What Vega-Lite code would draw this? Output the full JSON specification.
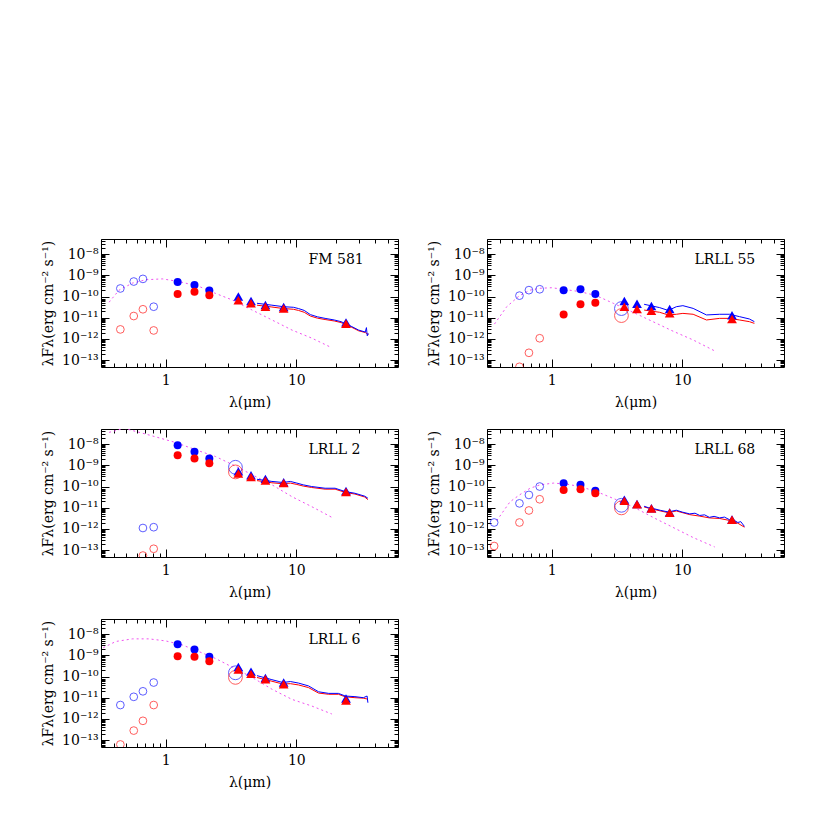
{
"$schema": "https://vega.github.io/schema/vega-lite/v6.json",
"padding": {"left": 41, "top": 231, "right": 5, "bottom": 5},
"background": "white",
"config": {
  "view": {"stroke": "black", "strokeWidth": 1},
  "font": "DejaVu Serif",
  "axis": {"domain": false, "grid": false, "tickColor": "black", "tickWidth": 1, "labelFont": "DejaVu Serif", "labelFontSize": 14, "labelColor": "black", "titleFont": "DejaVu Serif", "titleFontSize": 14, "titleFontWeight": "normal", "titleColor": "black", "labelOverlap": false, "labelFlush": false}
},
"datasets": {
  "phot": [
    {"p":"FM 581","s":"b","t":"o","x":0.45,"y":2.4e-10},{"p":"FM 581","s":"b","t":"o","x":0.57,"y":5.1e-10},{"p":"FM 581","s":"b","t":"o","x":0.67,"y":6.8e-10},{"p":"FM 581","s":"b","t":"o","x":0.81,"y":3.3e-11},
    {"p":"FM 581","s":"r","t":"o","x":0.45,"y":2.8e-12},{"p":"FM 581","s":"r","t":"o","x":0.57,"y":1.2e-11},{"p":"FM 581","s":"r","t":"o","x":0.67,"y":2.5e-11},{"p":"FM 581","s":"r","t":"o","x":0.81,"y":2.5e-12},
    {"p":"FM 581","s":"b","t":"f","x":1.235,"y":4.8e-10},{"p":"FM 581","s":"b","t":"f","x":1.662,"y":3.5e-10},{"p":"FM 581","s":"b","t":"f","x":2.159,"y":1.9e-10},
    {"p":"FM 581","s":"r","t":"f","x":1.235,"y":1.3e-10},{"p":"FM 581","s":"r","t":"f","x":1.662,"y":1.7e-10},{"p":"FM 581","s":"r","t":"f","x":2.159,"y":1.15e-10},
    {"p":"FM 581","s":"b","t":"t","x":3.6,"y":1.0e-10},{"p":"FM 581","s":"b","t":"t","x":4.5,"y":6.2e-11},{"p":"FM 581","s":"b","t":"t","x":5.8,"y":4.0e-11},{"p":"FM 581","s":"b","t":"t","x":8.0,"y":3.2e-11},{"p":"FM 581","s":"b","t":"t","x":24,"y":6.0e-12},
    {"p":"FM 581","s":"r","t":"t","x":3.6,"y":6.6e-11},{"p":"FM 581","s":"r","t":"t","x":4.5,"y":4.8e-11},{"p":"FM 581","s":"r","t":"t","x":5.8,"y":3.3e-11},{"p":"FM 581","s":"r","t":"t","x":8.0,"y":2.7e-11},{"p":"FM 581","s":"r","t":"t","x":24,"y":5.2e-12},

    {"p":"LRLL 55","s":"b","t":"o","x":0.567,"y":1.1e-10},{"p":"LRLL 55","s":"b","t":"o","x":0.67,"y":2.0e-10},{"p":"LRLL 55","s":"b","t":"o","x":0.81,"y":2.2e-10},
    {"p":"LRLL 55","s":"r","t":"o","x":0.567,"y":4.8e-14},{"p":"LRLL 55","s":"r","t":"o","x":0.67,"y":2.2e-13},{"p":"LRLL 55","s":"r","t":"o","x":0.81,"y":1.07e-12},
    {"p":"LRLL 55","s":"b","t":"f","x":1.235,"y":2.0e-10},{"p":"LRLL 55","s":"b","t":"f","x":1.662,"y":2.2e-10},{"p":"LRLL 55","s":"b","t":"f","x":2.159,"y":1.3e-10},
    {"p":"LRLL 55","s":"r","t":"f","x":1.235,"y":1.4e-11},{"p":"LRLL 55","s":"r","t":"f","x":1.662,"y":4.3e-11},{"p":"LRLL 55","s":"r","t":"f","x":2.159,"y":5.1e-11},
    {"p":"LRLL 55","s":"b","t":"O","x":3.42,"y":2.7e-11},{"p":"LRLL 55","s":"r","t":"O","x":3.42,"y":1.26e-11},
    {"p":"LRLL 55","s":"b","t":"t","x":3.6,"y":6.2e-11},{"p":"LRLL 55","s":"b","t":"t","x":4.5,"y":4.6e-11},{"p":"LRLL 55","s":"b","t":"t","x":5.8,"y":3.6e-11},{"p":"LRLL 55","s":"b","t":"t","x":8.0,"y":2.6e-11},{"p":"LRLL 55","s":"b","t":"t","x":24,"y":1.3e-11},
    {"p":"LRLL 55","s":"r","t":"t","x":3.6,"y":3.3e-11},{"p":"LRLL 55","s":"r","t":"t","x":4.5,"y":2.6e-11},{"p":"LRLL 55","s":"r","t":"t","x":5.8,"y":2.1e-11},{"p":"LRLL 55","s":"r","t":"t","x":8.0,"y":1.6e-11},{"p":"LRLL 55","s":"r","t":"t","x":24,"y":8.7e-12},

    {"p":"LRLL 2","s":"b","t":"o","x":0.67,"y":1.1e-12},{"p":"LRLL 2","s":"b","t":"o","x":0.81,"y":1.2e-12},
    {"p":"LRLL 2","s":"r","t":"o","x":0.67,"y":5.5e-14},{"p":"LRLL 2","s":"r","t":"o","x":0.81,"y":1.15e-13},
    {"p":"LRLL 2","s":"b","t":"f","x":1.235,"y":9.0e-9},{"p":"LRLL 2","s":"b","t":"f","x":1.662,"y":4.4e-9},{"p":"LRLL 2","s":"b","t":"f","x":2.159,"y":2.1e-9},
    {"p":"LRLL 2","s":"r","t":"f","x":1.235,"y":3.0e-9},{"p":"LRLL 2","s":"r","t":"f","x":1.662,"y":2.1e-9},{"p":"LRLL 2","s":"r","t":"f","x":2.159,"y":1.27e-9},
    {"p":"LRLL 2","s":"b","t":"O","x":3.42,"y":8.1e-10},{"p":"LRLL 2","s":"r","t":"O","x":3.42,"y":4.9e-10},
    {"p":"LRLL 2","s":"b","t":"t","x":3.6,"y":5.2e-10},{"p":"LRLL 2","s":"b","t":"t","x":4.5,"y":3.4e-10},{"p":"LRLL 2","s":"b","t":"t","x":5.8,"y":2.3e-10},{"p":"LRLL 2","s":"b","t":"t","x":8.0,"y":1.6e-10},{"p":"LRLL 2","s":"b","t":"t","x":24,"y":6.2e-11},
    {"p":"LRLL 2","s":"r","t":"t","x":3.6,"y":4.1e-10},{"p":"LRLL 2","s":"r","t":"t","x":4.5,"y":2.8e-10},{"p":"LRLL 2","s":"r","t":"t","x":5.8,"y":1.9e-10},{"p":"LRLL 2","s":"r","t":"t","x":8.0,"y":1.45e-10},{"p":"LRLL 2","s":"r","t":"t","x":24,"y":5.5e-11},

    {"p":"LRLL 68","s":"b","t":"o","x":0.363,"y":2.0e-12},{"p":"LRLL 68","s":"b","t":"o","x":0.567,"y":1.6e-11},{"p":"LRLL 68","s":"b","t":"o","x":0.67,"y":4.0e-11},{"p":"LRLL 68","s":"b","t":"o","x":0.81,"y":1.0e-10},
    {"p":"LRLL 68","s":"r","t":"o","x":0.363,"y":1.55e-13},{"p":"LRLL 68","s":"r","t":"o","x":0.567,"y":2.0e-12},{"p":"LRLL 68","s":"r","t":"o","x":0.67,"y":7.4e-12},{"p":"LRLL 68","s":"r","t":"o","x":0.81,"y":2.5e-11},
    {"p":"LRLL 68","s":"b","t":"f","x":1.235,"y":1.44e-10},{"p":"LRLL 68","s":"b","t":"f","x":1.662,"y":1.2e-10},{"p":"LRLL 68","s":"b","t":"f","x":2.159,"y":6.4e-11},
    {"p":"LRLL 68","s":"r","t":"f","x":1.235,"y":6.9e-11},{"p":"LRLL 68","s":"r","t":"f","x":1.662,"y":7.4e-11},{"p":"LRLL 68","s":"r","t":"f","x":2.159,"y":4.8e-11},
    {"p":"LRLL 68","s":"b","t":"O","x":3.42,"y":1.3e-11},{"p":"LRLL 68","s":"r","t":"O","x":3.42,"y":9.8e-12},
    {"p":"LRLL 68","s":"b","t":"t","x":3.6,"y":2.4e-11},{"p":"LRLL 68","s":"b","t":"t","x":4.5,"y":1.5e-11},{"p":"LRLL 68","s":"b","t":"t","x":5.8,"y":9.5e-12},{"p":"LRLL 68","s":"b","t":"t","x":8.0,"y":6.0e-12},{"p":"LRLL 68","s":"b","t":"t","x":24,"y":2.8e-12},
    {"p":"LRLL 68","s":"r","t":"t","x":3.6,"y":2.1e-11},{"p":"LRLL 68","s":"r","t":"t","x":4.5,"y":1.45e-11},{"p":"LRLL 68","s":"r","t":"t","x":5.8,"y":9.1e-12},{"p":"LRLL 68","s":"r","t":"t","x":8.0,"y":5.8e-12},{"p":"LRLL 68","s":"r","t":"t","x":24,"y":2.7e-12},

    {"p":"LRLL 6","s":"b","t":"o","x":0.45,"y":4.5e-12},{"p":"LRLL 6","s":"b","t":"o","x":0.57,"y":1.1e-11},{"p":"LRLL 6","s":"b","t":"o","x":0.67,"y":2.0e-11},{"p":"LRLL 6","s":"b","t":"o","x":0.81,"y":5.2e-11},
    {"p":"LRLL 6","s":"r","t":"o","x":0.45,"y":6.2e-14},{"p":"LRLL 6","s":"r","t":"o","x":0.57,"y":2.8e-13},{"p":"LRLL 6","s":"r","t":"o","x":0.67,"y":8.1e-13},{"p":"LRLL 6","s":"r","t":"o","x":0.81,"y":4.5e-12},
    {"p":"LRLL 6","s":"b","t":"f","x":1.235,"y":3.3e-9},{"p":"LRLL 6","s":"b","t":"f","x":1.662,"y":1.9e-9},{"p":"LRLL 6","s":"b","t":"f","x":2.159,"y":8.5e-10},
    {"p":"LRLL 6","s":"r","t":"f","x":1.235,"y":9.1e-10},{"p":"LRLL 6","s":"r","t":"f","x":1.662,"y":8.5e-10},{"p":"LRLL 6","s":"r","t":"f","x":2.159,"y":5.2e-10},
    {"p":"LRLL 6","s":"b","t":"O","x":3.42,"y":1.5e-10},{"p":"LRLL 6","s":"r","t":"O","x":3.42,"y":9.1e-11},
    {"p":"LRLL 6","s":"b","t":"t","x":3.6,"y":2.8e-10},{"p":"LRLL 6","s":"b","t":"t","x":4.5,"y":1.7e-10},{"p":"LRLL 6","s":"b","t":"t","x":5.8,"y":8.5e-11},{"p":"LRLL 6","s":"b","t":"t","x":8.0,"y":5.2e-11},{"p":"LRLL 6","s":"b","t":"t","x":24,"y":9.1e-12},
    {"p":"LRLL 6","s":"r","t":"t","x":3.6,"y":2.15e-10},{"p":"LRLL 6","s":"r","t":"t","x":4.5,"y":1.33e-10},{"p":"LRLL 6","s":"r","t":"t","x":5.8,"y":7.4e-11},{"p":"LRLL 6","s":"r","t":"t","x":8.0,"y":4.3e-11},{"p":"LRLL 6","s":"r","t":"t","x":24,"y":7.4e-12}
  ],
  "spec": [
    {"p":"FM 581","s":"r","x":5.0,"y":3.9e-11},{"p":"FM 581","s":"r","x":6.5,"y":3.2e-11},{"p":"FM 581","s":"r","x":8.0,"y":2.7e-11},{"p":"FM 581","s":"r","x":9.5,"y":2.5e-11},{"p":"FM 581","s":"r","x":10.4,"y":2.2e-11},{"p":"FM 581","s":"r","x":11.5,"y":1.8e-11},{"p":"FM 581","s":"r","x":12.8,"y":1.2e-11},{"p":"FM 581","s":"r","x":14.5,"y":9.5e-12},{"p":"FM 581","s":"r","x":16.6,"y":8.2e-12},{"p":"FM 581","s":"r","x":19.5,"y":7.0e-12},{"p":"FM 581","s":"r","x":22,"y":5.9e-12},{"p":"FM 581","s":"r","x":26.6,"y":3.5e-12},{"p":"FM 581","s":"r","x":30,"y":2.4e-12},{"p":"FM 581","s":"r","x":33.7,"y":2.0e-12},{"p":"FM 581","s":"r","x":35.6,"y":1.6e-12},
    {"p":"FM 581","s":"b","x":5.0,"y":4.8e-11},{"p":"FM 581","s":"b","x":6.5,"y":3.9e-11},{"p":"FM 581","s":"b","x":8.0,"y":3.3e-11},{"p":"FM 581","s":"b","x":9.5,"y":3.1e-11},{"p":"FM 581","s":"b","x":10.4,"y":2.7e-11},{"p":"FM 581","s":"b","x":11.5,"y":2.2e-11},{"p":"FM 581","s":"b","x":12.8,"y":1.4e-11},{"p":"FM 581","s":"b","x":14.5,"y":1.1e-11},{"p":"FM 581","s":"b","x":16.6,"y":9.3e-12},{"p":"FM 581","s":"b","x":19.5,"y":7.8e-12},{"p":"FM 581","s":"b","x":22,"y":6.5e-12},{"p":"FM 581","s":"b","x":26.6,"y":3.8e-12},{"p":"FM 581","s":"b","x":30,"y":2.6e-12},{"p":"FM 581","s":"b","x":33.7,"y":2.1e-12},{"p":"FM 581","s":"b","x":34.4,"y":3.4e-12},{"p":"FM 581","s":"b","x":34.9,"y":1.4e-12},{"p":"FM 581","s":"b","x":35.6,"y":1.8e-12},

    {"p":"LRLL 55","s":"r","x":5.1,"y":2.3e-11},{"p":"LRLL 55","s":"r","x":6.7,"y":1.8e-11},{"p":"LRLL 55","s":"r","x":7.8,"y":1.35e-11},{"p":"LRLL 55","s":"r","x":9.0,"y":1.45e-11},{"p":"LRLL 55","s":"r","x":10.1,"y":1.6e-11},{"p":"LRLL 55","s":"r","x":12.1,"y":1.45e-11},{"p":"LRLL 55","s":"r","x":15.3,"y":7.8e-12},{"p":"LRLL 55","s":"r","x":19.3,"y":9.3e-12},{"p":"LRLL 55","s":"r","x":23,"y":9.3e-12},{"p":"LRLL 55","s":"r","x":27.4,"y":7.8e-12},{"p":"LRLL 55","s":"r","x":32.6,"y":6.5e-12},{"p":"LRLL 55","s":"r","x":35.6,"y":5.4e-12},
    {"p":"LRLL 55","s":"b","x":5.1,"y":4.3e-11},{"p":"LRLL 55","s":"b","x":6.7,"y":3.0e-11},{"p":"LRLL 55","s":"b","x":7.8,"y":2.2e-11},{"p":"LRLL 55","s":"b","x":9.0,"y":3.3e-11},{"p":"LRLL 55","s":"b","x":10.1,"y":3.7e-11},{"p":"LRLL 55","s":"b","x":12.1,"y":2.75e-11},{"p":"LRLL 55","s":"b","x":15.3,"y":1.35e-11},{"p":"LRLL 55","s":"b","x":19.3,"y":1.45e-11},{"p":"LRLL 55","s":"b","x":23,"y":1.45e-11},{"p":"LRLL 55","s":"b","x":27.4,"y":1.12e-11},{"p":"LRLL 55","s":"b","x":32.6,"y":8.7e-12},{"p":"LRLL 55","s":"b","x":35.6,"y":6.5e-12},

    {"p":"LRLL 2","s":"r","x":5.0,"y":1.9e-10},{"p":"LRLL 2","s":"r","x":6.5,"y":1.5e-10},{"p":"LRLL 2","s":"r","x":7.9,"y":1.35e-10},{"p":"LRLL 2","s":"r","x":9.0,"y":1.45e-10},{"p":"LRLL 2","s":"r","x":10.1,"y":1.25e-10},{"p":"LRLL 2","s":"r","x":11.3,"y":1.05e-10},{"p":"LRLL 2","s":"r","x":13.1,"y":9.0e-11},{"p":"LRLL 2","s":"r","x":16.6,"y":7.5e-11},{"p":"LRLL 2","s":"r","x":19.8,"y":7.5e-11},{"p":"LRLL 2","s":"r","x":23.6,"y":5.3e-11},{"p":"LRLL 2","s":"r","x":28.1,"y":4.4e-11},{"p":"LRLL 2","s":"r","x":33.4,"y":3.2e-11},{"p":"LRLL 2","s":"r","x":35.3,"y":2.4e-11},
    {"p":"LRLL 2","s":"b","x":5.0,"y":2.2e-10},{"p":"LRLL 2","s":"b","x":6.5,"y":1.74e-10},{"p":"LRLL 2","s":"b","x":7.9,"y":1.55e-10},{"p":"LRLL 2","s":"b","x":9.0,"y":1.74e-10},{"p":"LRLL 2","s":"b","x":10.1,"y":1.45e-10},{"p":"LRLL 2","s":"b","x":11.3,"y":1.2e-10},{"p":"LRLL 2","s":"b","x":13.1,"y":1.0e-10},{"p":"LRLL 2","s":"b","x":16.6,"y":8.3e-11},{"p":"LRLL 2","s":"b","x":19.8,"y":8.3e-11},{"p":"LRLL 2","s":"b","x":23.6,"y":5.8e-11},{"p":"LRLL 2","s":"b","x":28.1,"y":4.8e-11},{"p":"LRLL 2","s":"b","x":33.4,"y":3.5e-11},{"p":"LRLL 2","s":"b","x":35.3,"y":2.8e-11},

    {"p":"LRLL 68","s":"r","x":5.1,"y":1.08e-11},{"p":"LRLL 68","s":"r","x":6.0,"y":8.4e-12},{"p":"LRLL 68","s":"r","x":7.8,"y":5.8e-12},{"p":"LRLL 68","s":"r","x":9.0,"y":7.0e-12},{"p":"LRLL 68","s":"r","x":11.4,"y":4.7e-12},{"p":"LRLL 68","s":"r","x":13.6,"y":4.0e-12},{"p":"LRLL 68","s":"r","x":16.1,"y":3.3e-12},{"p":"LRLL 68","s":"r","x":19.3,"y":3.1e-12},{"p":"LRLL 68","s":"r","x":23,"y":2.5e-12},{"p":"LRLL 68","s":"r","x":26.6,"y":1.85e-12},{"p":"LRLL 68","s":"r","x":29.9,"y":1.2e-12},
    {"p":"LRLL 68","s":"b","x":5.1,"y":1.17e-11},{"p":"LRLL 68","s":"b","x":5.5,"y":1.0e-11},{"p":"LRLL 68","s":"b","x":6.0,"y":9.1e-12},{"p":"LRLL 68","s":"b","x":6.8,"y":7.5e-12},{"p":"LRLL 68","s":"b","x":7.8,"y":6.3e-12},{"p":"LRLL 68","s":"b","x":9.0,"y":7.6e-12},{"p":"LRLL 68","s":"b","x":10,"y":6.2e-12},{"p":"LRLL 68","s":"b","x":11.4,"y":5.1e-12},{"p":"LRLL 68","s":"b","x":12.5,"y":5.5e-12},{"p":"LRLL 68","s":"b","x":13.6,"y":4.3e-12},{"p":"LRLL 68","s":"b","x":14.8,"y":4.6e-12},{"p":"LRLL 68","s":"b","x":16.1,"y":3.5e-12},{"p":"LRLL 68","s":"b","x":17.5,"y":3.9e-12},{"p":"LRLL 68","s":"b","x":19.3,"y":3.3e-12},{"p":"LRLL 68","s":"b","x":21,"y":3.6e-12},{"p":"LRLL 68","s":"b","x":23,"y":2.7e-12},{"p":"LRLL 68","s":"b","x":25,"y":2.5e-12},{"p":"LRLL 68","s":"b","x":26.6,"y":2.0e-12},{"p":"LRLL 68","s":"b","x":28,"y":2.2e-12},{"p":"LRLL 68","s":"b","x":29.9,"y":1.3e-12},

    {"p":"LRLL 6","s":"r","x":5.0,"y":9.0e-11},{"p":"LRLL 6","s":"r","x":6.5,"y":6.0e-11},{"p":"LRLL 6","s":"r","x":7.9,"y":4.4e-11},{"p":"LRLL 6","s":"r","x":9.0,"y":4.6e-11},{"p":"LRLL 6","s":"r","x":10.4,"y":4.0e-11},{"p":"LRLL 6","s":"r","x":12.4,"y":3.0e-11},{"p":"LRLL 6","s":"r","x":14.8,"y":1.65e-11},{"p":"LRLL 6","s":"r","x":17.7,"y":1.45e-11},{"p":"LRLL 6","s":"r","x":21,"y":1.45e-11},{"p":"LRLL 6","s":"r","x":23.7,"y":1.1e-11},{"p":"LRLL 6","s":"r","x":28.1,"y":1.0e-11},{"p":"LRLL 6","s":"r","x":32.6,"y":9.5e-12},{"p":"LRLL 6","s":"r","x":35.3,"y":8.5e-12},
    {"p":"LRLL 6","s":"b","x":5.0,"y":1.1e-10},{"p":"LRLL 6","s":"b","x":6.5,"y":7.1e-11},{"p":"LRLL 6","s":"b","x":7.9,"y":5.2e-11},{"p":"LRLL 6","s":"b","x":9.0,"y":5.8e-11},{"p":"LRLL 6","s":"b","x":10.4,"y":4.9e-11},{"p":"LRLL 6","s":"b","x":12.4,"y":3.6e-11},{"p":"LRLL 6","s":"b","x":14.8,"y":1.9e-11},{"p":"LRLL 6","s":"b","x":17.7,"y":1.6e-11},{"p":"LRLL 6","s":"b","x":21,"y":1.6e-11},{"p":"LRLL 6","s":"b","x":23.7,"y":1.2e-11},{"p":"LRLL 6","s":"b","x":28.1,"y":1.12e-11},{"p":"LRLL 6","s":"b","x":32.6,"y":1.0e-11},{"p":"LRLL 6","s":"b","x":34.8,"y":1.2e-11},{"p":"LRLL 6","s":"b","x":35.3,"y":5.8e-12}
  ],
  "model": [
    {"p":"FM 581","x":0.369,"y":5.4e-11},{"p":"FM 581","x":0.44,"y":2.0e-10},{"p":"FM 581","x":0.557,"y":4.3e-10},{"p":"FM 581","x":0.703,"y":6.2e-10},{"p":"FM 581","x":0.944,"y":6.8e-10},{"p":"FM 581","x":1.264,"y":5.1e-10},{"p":"FM 581","x":1.8,"y":3.0e-10},{"p":"FM 581","x":2.41,"y":1.4e-10},{"p":"FM 581","x":3.23,"y":6.9e-11},{"p":"FM 581","x":4.59,"y":2.3e-11},{"p":"FM 581","x":6.52,"y":7.8e-12},{"p":"FM 581","x":9.27,"y":2.6e-12},{"p":"FM 581","x":13.2,"y":1.07e-12},{"p":"FM 581","x":18.7,"y":3.8e-13},
    {"p":"LRLL 55","x":0.365,"y":5.0e-12},{"p":"LRLL 55","x":0.453,"y":3.3e-11},{"p":"LRLL 55","x":0.567,"y":1.1e-10},{"p":"LRLL 55","x":0.684,"y":2.0e-10},{"p":"LRLL 55","x":0.815,"y":2.45e-10},{"p":"LRLL 55","x":1.0,"y":2.6e-10},{"p":"LRLL 55","x":1.228,"y":2.2e-10},{"p":"LRLL 55","x":1.645,"y":1.7e-10},{"p":"LRLL 55","x":2.2,"y":1.1e-10},{"p":"LRLL 55","x":2.96,"y":4.8e-11},{"p":"LRLL 55","x":4.2,"y":1.8e-11},{"p":"LRLL 55","x":5.96,"y":6.5e-12},{"p":"LRLL 55","x":8.5,"y":2.3e-12},{"p":"LRLL 55","x":12.1,"y":8.9e-13},{"p":"LRLL 55","x":17.7,"y":2.7e-13},
    {"p":"LRLL 2","x":0.369,"y":3.6e-8},{"p":"LRLL 2","x":0.481,"y":5.6e-8},{"p":"LRLL 2","x":0.703,"y":3.0e-8},{"p":"LRLL 2","x":1.19,"y":1.2e-8},{"p":"LRLL 2","x":1.8,"y":4.8e-9},{"p":"LRLL 2","x":2.41,"y":2.6e-9},{"p":"LRLL 2","x":3.23,"y":1.1e-9},{"p":"LRLL 2","x":4.59,"y":3.6e-10},{"p":"LRLL 2","x":6.52,"y":1.2e-10},{"p":"LRLL 2","x":9.27,"y":3.3e-11},{"p":"LRLL 2","x":13.2,"y":1.1e-11},{"p":"LRLL 2","x":18.7,"y":3.5e-12},
    {"p":"LRLL 68","x":0.38,"y":2.45e-12},{"p":"LRLL 68","x":0.48,"y":1.9e-11},{"p":"LRLL 68","x":0.567,"y":4.0e-11},{"p":"LRLL 68","x":0.684,"y":8.3e-11},{"p":"LRLL 68","x":0.815,"y":1.2e-10},{"p":"LRLL 68","x":1.03,"y":1.45e-10},{"p":"LRLL 68","x":1.3,"y":1.3e-10},{"p":"LRLL 68","x":1.645,"y":1.0e-10},{"p":"LRLL 68","x":2.2,"y":5.8e-11},{"p":"LRLL 68","x":2.96,"y":2.75e-11},{"p":"LRLL 68","x":4.2,"y":1.1e-11},{"p":"LRLL 68","x":5.96,"y":3.5e-12},{"p":"LRLL 68","x":8.5,"y":1.17e-12},{"p":"LRLL 68","x":12.1,"y":3.9e-13},{"p":"LRLL 68","x":17.7,"y":1.4e-13},
    {"p":"LRLL 6","x":0.333,"y":2.3e-9},{"p":"LRLL 6","x":0.415,"y":4.5e-9},{"p":"LRLL 6","x":0.557,"y":6.0e-9},{"p":"LRLL 6","x":0.746,"y":6.0e-9},{"p":"LRLL 6","x":1.0,"y":4.8e-9},{"p":"LRLL 6","x":1.34,"y":3.1e-9},{"p":"LRLL 6","x":1.8,"y":1.5e-9},{"p":"LRLL 6","x":2.41,"y":7.1e-10},{"p":"LRLL 6","x":3.23,"y":2.8e-10},{"p":"LRLL 6","x":4.59,"y":9.1e-11},{"p":"LRLL 6","x":6.52,"y":2.5e-11},{"p":"LRLL 6","x":9.27,"y":8.3e-12},{"p":"LRLL 6","x":13.2,"y":4.0e-12},{"p":"LRLL 6","x":18.7,"y":1.7e-12}
  ]
},
"columns": 2,
"spacing": {"row": 62, "column": 89},
"bounds": "flush",
"concat": [
  {"width":297,"height":128,"resolve":{"axis":{"x":"independent","y":"independent"}},"layer":[
   {"data":{"name":"model"},"transform":[{"filter":"datum.p=='FM 581'"}],"mark":{"type":"line","color":"#f050f0","strokeDash":[2,3],"strokeWidth":1,"clip":true},
    "encoding":{"x":{"field":"x","type":"quantitative","scale":{"type":"log","domain":[0.32,60],"nice":false},"axis":{"orient":"bottom","title":"λ(μm)","values":[0.4,0.5,0.6,0.7,0.8,0.9,1,2,3,4,5,6,7,8,9,10,20,30,40,50],"labelExpr":"datum.value==1?'1':datum.value==10?'10':''","tickSize":{"condition":{"test":"datum.value==1||datum.value==10","value":-8},"value":-4},"labelPadding":14,"titlePadding":4}},
     "y":{"field":"y","type":"quantitative","scale":{"type":"log","domain":[4.7e-14,5.2e-8],"nice":false},"axis":{"orient":"left","title":"λFλ(erg cm⁻² s⁻¹)","values":[5e-14,6e-14,7e-14,8e-14,9e-14,1e-13,2e-13,3e-13,4e-13,5e-13,6e-13,7e-13,8e-13,9e-13,1e-12,2e-12,3e-12,4e-12,5e-12,6e-12,7e-12,8e-12,9e-12,1e-11,2e-11,3e-11,4e-11,5e-11,6e-11,7e-11,8e-11,9e-11,1e-10,2e-10,3e-10,4e-10,5e-10,6e-10,7e-10,8e-10,9e-10,1e-9,2e-9,3e-9,4e-9,5e-9,6e-9,7e-9,8e-9,9e-9,1e-8,2e-8,3e-8,4e-8,5e-8],"labelExpr":"datum.value==1e-8?'10⁻⁸':datum.value==1e-9?'10⁻⁹':datum.value==1e-10?'10⁻¹⁰':datum.value==1e-11?'10⁻¹¹':datum.value==1e-12?'10⁻¹²':datum.value==1e-13?'10⁻¹³':''","tickSize":{"condition":{"test":"datum.value==1e-8||datum.value==1e-9||datum.value==1e-10||datum.value==1e-11||datum.value==1e-12||datum.value==1e-13","value":-8},"value":-4},"labelPadding":11,"titlePadding":6}}}},
   {"data":{"name":"spec"},"transform":[{"filter":"datum.p=='FM 581'"}],"mark":{"type":"line","strokeWidth":1,"clip":true},
    "encoding":{"x":{"field":"x","type":"quantitative","scale":{"type":"log","domain":[0.32,60],"nice":false},"axis":{"orient":"top","title":null,"labels":false,"values":[0.4,0.5,0.6,0.7,0.8,0.9,1,2,3,4,5,6,7,8,9,10,20,30,40,50],"tickSize":{"condition":{"test":"datum.value==1||datum.value==10","value":-8},"value":-4}}},
     "y":{"field":"y","type":"quantitative","scale":{"type":"log","domain":[4.7e-14,5.2e-8],"nice":false},"axis":{"orient":"right","title":null,"labels":false,"values":[5e-14,6e-14,7e-14,8e-14,9e-14,1e-13,2e-13,3e-13,4e-13,5e-13,6e-13,7e-13,8e-13,9e-13,1e-12,2e-12,3e-12,4e-12,5e-12,6e-12,7e-12,8e-12,9e-12,1e-11,2e-11,3e-11,4e-11,5e-11,6e-11,7e-11,8e-11,9e-11,1e-10,2e-10,3e-10,4e-10,5e-10,6e-10,7e-10,8e-10,9e-10,1e-9,2e-9,3e-9,4e-9,5e-9,6e-9,7e-9,8e-9,9e-9,1e-8,2e-8,3e-8,4e-8,5e-8],"tickSize":{"condition":{"test":"datum.value==1e-8||datum.value==1e-9||datum.value==1e-10||datum.value==1e-11||datum.value==1e-12||datum.value==1e-13","value":-8},"value":-4}}},
     "color":{"field":"s","type":"nominal","scale":{"domain":["b","r"],"range":["#0000ff","#ff0000"]},"legend":null}}},
   {"data":{"name":"phot"},"transform":[{"filter":"datum.p=='FM 581' && datum.t=='o'"}],"mark":{"type":"point","shape":"circle","filled":false,"size":60,"strokeWidth":0.9,"clip":true},
    "encoding":{"x":{"field":"x","type":"quantitative","axis":null},"y":{"field":"y","type":"quantitative","axis":null},"color":{"field":"s","type":"nominal","legend":null}}},
   {"data":{"name":"phot"},"transform":[{"filter":"datum.p=='FM 581' && datum.t=='O'"}],"mark":{"type":"point","shape":"circle","filled":false,"size":190,"strokeWidth":0.9,"clip":true},
    "encoding":{"x":{"field":"x","type":"quantitative","axis":null},"y":{"field":"y","type":"quantitative","axis":null},"color":{"field":"s","type":"nominal","legend":null}}},
   {"data":{"name":"phot"},"transform":[{"filter":"datum.p=='FM 581' && datum.t=='f'"}],"mark":{"type":"point","shape":"circle","filled":true,"opacity":1,"size":64,"clip":true},
    "encoding":{"x":{"field":"x","type":"quantitative","axis":null},"y":{"field":"y","type":"quantitative","axis":null},"color":{"field":"s","type":"nominal","legend":null}}},
   {"data":{"name":"phot"},"transform":[{"filter":"datum.p=='FM 581' && datum.t=='t'"}],"mark":{"type":"point","shape":"triangle-up","filled":true,"opacity":1,"size":95,"clip":true},
    "encoding":{"x":{"field":"x","type":"quantitative","axis":null},"y":{"field":"y","type":"quantitative","axis":null},"color":{"field":"s","type":"nominal","legend":null}}},
   {"data":{"values":[{"name":"FM 581"}]},"mark":{"type":"text","align":"left","baseline":"middle","font":"DejaVu Serif","fontSize":14,"color":"black"},
    "encoding":{"x":{"datum":12.4,"type":"quantitative","axis":null},"y":{"datum":5.5e-9,"type":"quantitative","axis":null},"text":{"field":"name"}}}
  ]},
  {"width":297,"height":128,"resolve":{"axis":{"x":"independent","y":"independent"}},"layer":[
   {"data":{"name":"model"},"transform":[{"filter":"datum.p=='LRLL 55'"}],"mark":{"type":"line","color":"#f050f0","strokeDash":[2,3],"strokeWidth":1,"clip":true},
    "encoding":{"x":{"field":"x","type":"quantitative","scale":{"type":"log","domain":[0.32,60],"nice":false},"axis":{"orient":"bottom","title":"λ(μm)","values":[0.4,0.5,0.6,0.7,0.8,0.9,1,2,3,4,5,6,7,8,9,10,20,30,40,50],"labelExpr":"datum.value==1?'1':datum.value==10?'10':''","tickSize":{"condition":{"test":"datum.value==1||datum.value==10","value":-8},"value":-4},"labelPadding":14,"titlePadding":4}},
     "y":{"field":"y","type":"quantitative","scale":{"type":"log","domain":[4.7e-14,5.2e-8],"nice":false},"axis":{"orient":"left","title":"λFλ(erg cm⁻² s⁻¹)","values":[5e-14,6e-14,7e-14,8e-14,9e-14,1e-13,2e-13,3e-13,4e-13,5e-13,6e-13,7e-13,8e-13,9e-13,1e-12,2e-12,3e-12,4e-12,5e-12,6e-12,7e-12,8e-12,9e-12,1e-11,2e-11,3e-11,4e-11,5e-11,6e-11,7e-11,8e-11,9e-11,1e-10,2e-10,3e-10,4e-10,5e-10,6e-10,7e-10,8e-10,9e-10,1e-9,2e-9,3e-9,4e-9,5e-9,6e-9,7e-9,8e-9,9e-9,1e-8,2e-8,3e-8,4e-8,5e-8],"labelExpr":"datum.value==1e-8?'10⁻⁸':datum.value==1e-9?'10⁻⁹':datum.value==1e-10?'10⁻¹⁰':datum.value==1e-11?'10⁻¹¹':datum.value==1e-12?'10⁻¹²':datum.value==1e-13?'10⁻¹³':''","tickSize":{"condition":{"test":"datum.value==1e-8||datum.value==1e-9||datum.value==1e-10||datum.value==1e-11||datum.value==1e-12||datum.value==1e-13","value":-8},"value":-4},"labelPadding":11,"titlePadding":6}}}},
   {"data":{"name":"spec"},"transform":[{"filter":"datum.p=='LRLL 55'"}],"mark":{"type":"line","strokeWidth":1,"clip":true},
    "encoding":{"x":{"field":"x","type":"quantitative","scale":{"type":"log","domain":[0.32,60],"nice":false},"axis":{"orient":"top","title":null,"labels":false,"values":[0.4,0.5,0.6,0.7,0.8,0.9,1,2,3,4,5,6,7,8,9,10,20,30,40,50],"tickSize":{"condition":{"test":"datum.value==1||datum.value==10","value":-8},"value":-4}}},
     "y":{"field":"y","type":"quantitative","scale":{"type":"log","domain":[4.7e-14,5.2e-8],"nice":false},"axis":{"orient":"right","title":null,"labels":false,"values":[5e-14,6e-14,7e-14,8e-14,9e-14,1e-13,2e-13,3e-13,4e-13,5e-13,6e-13,7e-13,8e-13,9e-13,1e-12,2e-12,3e-12,4e-12,5e-12,6e-12,7e-12,8e-12,9e-12,1e-11,2e-11,3e-11,4e-11,5e-11,6e-11,7e-11,8e-11,9e-11,1e-10,2e-10,3e-10,4e-10,5e-10,6e-10,7e-10,8e-10,9e-10,1e-9,2e-9,3e-9,4e-9,5e-9,6e-9,7e-9,8e-9,9e-9,1e-8,2e-8,3e-8,4e-8,5e-8],"tickSize":{"condition":{"test":"datum.value==1e-8||datum.value==1e-9||datum.value==1e-10||datum.value==1e-11||datum.value==1e-12||datum.value==1e-13","value":-8},"value":-4}}},
     "color":{"field":"s","type":"nominal","scale":{"domain":["b","r"],"range":["#0000ff","#ff0000"]},"legend":null}}},
   {"data":{"name":"phot"},"transform":[{"filter":"datum.p=='LRLL 55' && datum.t=='o'"}],"mark":{"type":"point","shape":"circle","filled":false,"size":60,"strokeWidth":0.9,"clip":true},
    "encoding":{"x":{"field":"x","type":"quantitative","axis":null},"y":{"field":"y","type":"quantitative","axis":null},"color":{"field":"s","type":"nominal","legend":null}}},
   {"data":{"name":"phot"},"transform":[{"filter":"datum.p=='LRLL 55' && datum.t=='O'"}],"mark":{"type":"point","shape":"circle","filled":false,"size":190,"strokeWidth":0.9,"clip":true},
    "encoding":{"x":{"field":"x","type":"quantitative","axis":null},"y":{"field":"y","type":"quantitative","axis":null},"color":{"field":"s","type":"nominal","legend":null}}},
   {"data":{"name":"phot"},"transform":[{"filter":"datum.p=='LRLL 55' && datum.t=='f'"}],"mark":{"type":"point","shape":"circle","filled":true,"opacity":1,"size":64,"clip":true},
    "encoding":{"x":{"field":"x","type":"quantitative","axis":null},"y":{"field":"y","type":"quantitative","axis":null},"color":{"field":"s","type":"nominal","legend":null}}},
   {"data":{"name":"phot"},"transform":[{"filter":"datum.p=='LRLL 55' && datum.t=='t'"}],"mark":{"type":"point","shape":"triangle-up","filled":true,"opacity":1,"size":95,"clip":true},
    "encoding":{"x":{"field":"x","type":"quantitative","axis":null},"y":{"field":"y","type":"quantitative","axis":null},"color":{"field":"s","type":"nominal","legend":null}}},
   {"data":{"values":[{"name":"LRLL 55"}]},"mark":{"type":"text","align":"left","baseline":"middle","font":"DejaVu Serif","fontSize":14,"color":"black"},
    "encoding":{"x":{"datum":12.4,"type":"quantitative","axis":null},"y":{"datum":5.5e-9,"type":"quantitative","axis":null},"text":{"field":"name"}}}
  ]},
  {"width":297,"height":128,"resolve":{"axis":{"x":"independent","y":"independent"}},"layer":[
   {"data":{"name":"model"},"transform":[{"filter":"datum.p=='LRLL 2'"}],"mark":{"type":"line","color":"#f050f0","strokeDash":[2,3],"strokeWidth":1,"clip":true},
    "encoding":{"x":{"field":"x","type":"quantitative","scale":{"type":"log","domain":[0.32,60],"nice":false},"axis":{"orient":"bottom","title":"λ(μm)","values":[0.4,0.5,0.6,0.7,0.8,0.9,1,2,3,4,5,6,7,8,9,10,20,30,40,50],"labelExpr":"datum.value==1?'1':datum.value==10?'10':''","tickSize":{"condition":{"test":"datum.value==1||datum.value==10","value":-8},"value":-4},"labelPadding":14,"titlePadding":4}},
     "y":{"field":"y","type":"quantitative","scale":{"type":"log","domain":[4.7e-14,5.2e-8],"nice":false},"axis":{"orient":"left","title":"λFλ(erg cm⁻² s⁻¹)","values":[5e-14,6e-14,7e-14,8e-14,9e-14,1e-13,2e-13,3e-13,4e-13,5e-13,6e-13,7e-13,8e-13,9e-13,1e-12,2e-12,3e-12,4e-12,5e-12,6e-12,7e-12,8e-12,9e-12,1e-11,2e-11,3e-11,4e-11,5e-11,6e-11,7e-11,8e-11,9e-11,1e-10,2e-10,3e-10,4e-10,5e-10,6e-10,7e-10,8e-10,9e-10,1e-9,2e-9,3e-9,4e-9,5e-9,6e-9,7e-9,8e-9,9e-9,1e-8,2e-8,3e-8,4e-8,5e-8],"labelExpr":"datum.value==1e-8?'10⁻⁸':datum.value==1e-9?'10⁻⁹':datum.value==1e-10?'10⁻¹⁰':datum.value==1e-11?'10⁻¹¹':datum.value==1e-12?'10⁻¹²':datum.value==1e-13?'10⁻¹³':''","tickSize":{"condition":{"test":"datum.value==1e-8||datum.value==1e-9||datum.value==1e-10||datum.value==1e-11||datum.value==1e-12||datum.value==1e-13","value":-8},"value":-4},"labelPadding":11,"titlePadding":6}}}},
   {"data":{"name":"spec"},"transform":[{"filter":"datum.p=='LRLL 2'"}],"mark":{"type":"line","strokeWidth":1,"clip":true},
    "encoding":{"x":{"field":"x","type":"quantitative","scale":{"type":"log","domain":[0.32,60],"nice":false},"axis":{"orient":"top","title":null,"labels":false,"values":[0.4,0.5,0.6,0.7,0.8,0.9,1,2,3,4,5,6,7,8,9,10,20,30,40,50],"tickSize":{"condition":{"test":"datum.value==1||datum.value==10","value":-8},"value":-4}}},
     "y":{"field":"y","type":"quantitative","scale":{"type":"log","domain":[4.7e-14,5.2e-8],"nice":false},"axis":{"orient":"right","title":null,"labels":false,"values":[5e-14,6e-14,7e-14,8e-14,9e-14,1e-13,2e-13,3e-13,4e-13,5e-13,6e-13,7e-13,8e-13,9e-13,1e-12,2e-12,3e-12,4e-12,5e-12,6e-12,7e-12,8e-12,9e-12,1e-11,2e-11,3e-11,4e-11,5e-11,6e-11,7e-11,8e-11,9e-11,1e-10,2e-10,3e-10,4e-10,5e-10,6e-10,7e-10,8e-10,9e-10,1e-9,2e-9,3e-9,4e-9,5e-9,6e-9,7e-9,8e-9,9e-9,1e-8,2e-8,3e-8,4e-8,5e-8],"tickSize":{"condition":{"test":"datum.value==1e-8||datum.value==1e-9||datum.value==1e-10||datum.value==1e-11||datum.value==1e-12||datum.value==1e-13","value":-8},"value":-4}}},
     "color":{"field":"s","type":"nominal","scale":{"domain":["b","r"],"range":["#0000ff","#ff0000"]},"legend":null}}},
   {"data":{"name":"phot"},"transform":[{"filter":"datum.p=='LRLL 2' && datum.t=='o'"}],"mark":{"type":"point","shape":"circle","filled":false,"size":60,"strokeWidth":0.9,"clip":true},
    "encoding":{"x":{"field":"x","type":"quantitative","axis":null},"y":{"field":"y","type":"quantitative","axis":null},"color":{"field":"s","type":"nominal","legend":null}}},
   {"data":{"name":"phot"},"transform":[{"filter":"datum.p=='LRLL 2' && datum.t=='O'"}],"mark":{"type":"point","shape":"circle","filled":false,"size":190,"strokeWidth":0.9,"clip":true},
    "encoding":{"x":{"field":"x","type":"quantitative","axis":null},"y":{"field":"y","type":"quantitative","axis":null},"color":{"field":"s","type":"nominal","legend":null}}},
   {"data":{"name":"phot"},"transform":[{"filter":"datum.p=='LRLL 2' && datum.t=='f'"}],"mark":{"type":"point","shape":"circle","filled":true,"opacity":1,"size":64,"clip":true},
    "encoding":{"x":{"field":"x","type":"quantitative","axis":null},"y":{"field":"y","type":"quantitative","axis":null},"color":{"field":"s","type":"nominal","legend":null}}},
   {"data":{"name":"phot"},"transform":[{"filter":"datum.p=='LRLL 2' && datum.t=='t'"}],"mark":{"type":"point","shape":"triangle-up","filled":true,"opacity":1,"size":95,"clip":true},
    "encoding":{"x":{"field":"x","type":"quantitative","axis":null},"y":{"field":"y","type":"quantitative","axis":null},"color":{"field":"s","type":"nominal","legend":null}}},
   {"data":{"values":[{"name":"LRLL 2"}]},"mark":{"type":"text","align":"left","baseline":"middle","font":"DejaVu Serif","fontSize":14,"color":"black"},
    "encoding":{"x":{"datum":12.4,"type":"quantitative","axis":null},"y":{"datum":5.5e-9,"type":"quantitative","axis":null},"text":{"field":"name"}}}
  ]},
  {"width":297,"height":128,"resolve":{"axis":{"x":"independent","y":"independent"}},"layer":[
   {"data":{"name":"model"},"transform":[{"filter":"datum.p=='LRLL 68'"}],"mark":{"type":"line","color":"#f050f0","strokeDash":[2,3],"strokeWidth":1,"clip":true},
    "encoding":{"x":{"field":"x","type":"quantitative","scale":{"type":"log","domain":[0.32,60],"nice":false},"axis":{"orient":"bottom","title":"λ(μm)","values":[0.4,0.5,0.6,0.7,0.8,0.9,1,2,3,4,5,6,7,8,9,10,20,30,40,50],"labelExpr":"datum.value==1?'1':datum.value==10?'10':''","tickSize":{"condition":{"test":"datum.value==1||datum.value==10","value":-8},"value":-4},"labelPadding":14,"titlePadding":4}},
     "y":{"field":"y","type":"quantitative","scale":{"type":"log","domain":[4.7e-14,5.2e-8],"nice":false},"axis":{"orient":"left","title":"λFλ(erg cm⁻² s⁻¹)","values":[5e-14,6e-14,7e-14,8e-14,9e-14,1e-13,2e-13,3e-13,4e-13,5e-13,6e-13,7e-13,8e-13,9e-13,1e-12,2e-12,3e-12,4e-12,5e-12,6e-12,7e-12,8e-12,9e-12,1e-11,2e-11,3e-11,4e-11,5e-11,6e-11,7e-11,8e-11,9e-11,1e-10,2e-10,3e-10,4e-10,5e-10,6e-10,7e-10,8e-10,9e-10,1e-9,2e-9,3e-9,4e-9,5e-9,6e-9,7e-9,8e-9,9e-9,1e-8,2e-8,3e-8,4e-8,5e-8],"labelExpr":"datum.value==1e-8?'10⁻⁸':datum.value==1e-9?'10⁻⁹':datum.value==1e-10?'10⁻¹⁰':datum.value==1e-11?'10⁻¹¹':datum.value==1e-12?'10⁻¹²':datum.value==1e-13?'10⁻¹³':''","tickSize":{"condition":{"test":"datum.value==1e-8||datum.value==1e-9||datum.value==1e-10||datum.value==1e-11||datum.value==1e-12||datum.value==1e-13","value":-8},"value":-4},"labelPadding":11,"titlePadding":6}}}},
   {"data":{"name":"spec"},"transform":[{"filter":"datum.p=='LRLL 68'"}],"mark":{"type":"line","strokeWidth":1,"clip":true},
    "encoding":{"x":{"field":"x","type":"quantitative","scale":{"type":"log","domain":[0.32,60],"nice":false},"axis":{"orient":"top","title":null,"labels":false,"values":[0.4,0.5,0.6,0.7,0.8,0.9,1,2,3,4,5,6,7,8,9,10,20,30,40,50],"tickSize":{"condition":{"test":"datum.value==1||datum.value==10","value":-8},"value":-4}}},
     "y":{"field":"y","type":"quantitative","scale":{"type":"log","domain":[4.7e-14,5.2e-8],"nice":false},"axis":{"orient":"right","title":null,"labels":false,"values":[5e-14,6e-14,7e-14,8e-14,9e-14,1e-13,2e-13,3e-13,4e-13,5e-13,6e-13,7e-13,8e-13,9e-13,1e-12,2e-12,3e-12,4e-12,5e-12,6e-12,7e-12,8e-12,9e-12,1e-11,2e-11,3e-11,4e-11,5e-11,6e-11,7e-11,8e-11,9e-11,1e-10,2e-10,3e-10,4e-10,5e-10,6e-10,7e-10,8e-10,9e-10,1e-9,2e-9,3e-9,4e-9,5e-9,6e-9,7e-9,8e-9,9e-9,1e-8,2e-8,3e-8,4e-8,5e-8],"tickSize":{"condition":{"test":"datum.value==1e-8||datum.value==1e-9||datum.value==1e-10||datum.value==1e-11||datum.value==1e-12||datum.value==1e-13","value":-8},"value":-4}}},
     "color":{"field":"s","type":"nominal","scale":{"domain":["b","r"],"range":["#0000ff","#ff0000"]},"legend":null}}},
   {"data":{"name":"phot"},"transform":[{"filter":"datum.p=='LRLL 68' && datum.t=='o'"}],"mark":{"type":"point","shape":"circle","filled":false,"size":60,"strokeWidth":0.9,"clip":true},
    "encoding":{"x":{"field":"x","type":"quantitative","axis":null},"y":{"field":"y","type":"quantitative","axis":null},"color":{"field":"s","type":"nominal","legend":null}}},
   {"data":{"name":"phot"},"transform":[{"filter":"datum.p=='LRLL 68' && datum.t=='O'"}],"mark":{"type":"point","shape":"circle","filled":false,"size":190,"strokeWidth":0.9,"clip":true},
    "encoding":{"x":{"field":"x","type":"quantitative","axis":null},"y":{"field":"y","type":"quantitative","axis":null},"color":{"field":"s","type":"nominal","legend":null}}},
   {"data":{"name":"phot"},"transform":[{"filter":"datum.p=='LRLL 68' && datum.t=='f'"}],"mark":{"type":"point","shape":"circle","filled":true,"opacity":1,"size":64,"clip":true},
    "encoding":{"x":{"field":"x","type":"quantitative","axis":null},"y":{"field":"y","type":"quantitative","axis":null},"color":{"field":"s","type":"nominal","legend":null}}},
   {"data":{"name":"phot"},"transform":[{"filter":"datum.p=='LRLL 68' && datum.t=='t'"}],"mark":{"type":"point","shape":"triangle-up","filled":true,"opacity":1,"size":95,"clip":true},
    "encoding":{"x":{"field":"x","type":"quantitative","axis":null},"y":{"field":"y","type":"quantitative","axis":null},"color":{"field":"s","type":"nominal","legend":null}}},
   {"data":{"values":[{"name":"LRLL 68"}]},"mark":{"type":"text","align":"left","baseline":"middle","font":"DejaVu Serif","fontSize":14,"color":"black"},
    "encoding":{"x":{"datum":12.4,"type":"quantitative","axis":null},"y":{"datum":5.5e-9,"type":"quantitative","axis":null},"text":{"field":"name"}}}
  ]},
  {"width":297,"height":128,"resolve":{"axis":{"x":"independent","y":"independent"}},"layer":[
   {"data":{"name":"model"},"transform":[{"filter":"datum.p=='LRLL 6'"}],"mark":{"type":"line","color":"#f050f0","strokeDash":[2,3],"strokeWidth":1,"clip":true},
    "encoding":{"x":{"field":"x","type":"quantitative","scale":{"type":"log","domain":[0.32,60],"nice":false},"axis":{"orient":"bottom","title":"λ(μm)","values":[0.4,0.5,0.6,0.7,0.8,0.9,1,2,3,4,5,6,7,8,9,10,20,30,40,50],"labelExpr":"datum.value==1?'1':datum.value==10?'10':''","tickSize":{"condition":{"test":"datum.value==1||datum.value==10","value":-8},"value":-4},"labelPadding":14,"titlePadding":4}},
     "y":{"field":"y","type":"quantitative","scale":{"type":"log","domain":[4.7e-14,5.2e-8],"nice":false},"axis":{"orient":"left","title":"λFλ(erg cm⁻² s⁻¹)","values":[5e-14,6e-14,7e-14,8e-14,9e-14,1e-13,2e-13,3e-13,4e-13,5e-13,6e-13,7e-13,8e-13,9e-13,1e-12,2e-12,3e-12,4e-12,5e-12,6e-12,7e-12,8e-12,9e-12,1e-11,2e-11,3e-11,4e-11,5e-11,6e-11,7e-11,8e-11,9e-11,1e-10,2e-10,3e-10,4e-10,5e-10,6e-10,7e-10,8e-10,9e-10,1e-9,2e-9,3e-9,4e-9,5e-9,6e-9,7e-9,8e-9,9e-9,1e-8,2e-8,3e-8,4e-8,5e-8],"labelExpr":"datum.value==1e-8?'10⁻⁸':datum.value==1e-9?'10⁻⁹':datum.value==1e-10?'10⁻¹⁰':datum.value==1e-11?'10⁻¹¹':datum.value==1e-12?'10⁻¹²':datum.value==1e-13?'10⁻¹³':''","tickSize":{"condition":{"test":"datum.value==1e-8||datum.value==1e-9||datum.value==1e-10||datum.value==1e-11||datum.value==1e-12||datum.value==1e-13","value":-8},"value":-4},"labelPadding":11,"titlePadding":6}}}},
   {"data":{"name":"spec"},"transform":[{"filter":"datum.p=='LRLL 6'"}],"mark":{"type":"line","strokeWidth":1,"clip":true},
    "encoding":{"x":{"field":"x","type":"quantitative","scale":{"type":"log","domain":[0.32,60],"nice":false},"axis":{"orient":"top","title":null,"labels":false,"values":[0.4,0.5,0.6,0.7,0.8,0.9,1,2,3,4,5,6,7,8,9,10,20,30,40,50],"tickSize":{"condition":{"test":"datum.value==1||datum.value==10","value":-8},"value":-4}}},
     "y":{"field":"y","type":"quantitative","scale":{"type":"log","domain":[4.7e-14,5.2e-8],"nice":false},"axis":{"orient":"right","title":null,"labels":false,"values":[5e-14,6e-14,7e-14,8e-14,9e-14,1e-13,2e-13,3e-13,4e-13,5e-13,6e-13,7e-13,8e-13,9e-13,1e-12,2e-12,3e-12,4e-12,5e-12,6e-12,7e-12,8e-12,9e-12,1e-11,2e-11,3e-11,4e-11,5e-11,6e-11,7e-11,8e-11,9e-11,1e-10,2e-10,3e-10,4e-10,5e-10,6e-10,7e-10,8e-10,9e-10,1e-9,2e-9,3e-9,4e-9,5e-9,6e-9,7e-9,8e-9,9e-9,1e-8,2e-8,3e-8,4e-8,5e-8],"tickSize":{"condition":{"test":"datum.value==1e-8||datum.value==1e-9||datum.value==1e-10||datum.value==1e-11||datum.value==1e-12||datum.value==1e-13","value":-8},"value":-4}}},
     "color":{"field":"s","type":"nominal","scale":{"domain":["b","r"],"range":["#0000ff","#ff0000"]},"legend":null}}},
   {"data":{"name":"phot"},"transform":[{"filter":"datum.p=='LRLL 6' && datum.t=='o'"}],"mark":{"type":"point","shape":"circle","filled":false,"size":60,"strokeWidth":0.9,"clip":true},
    "encoding":{"x":{"field":"x","type":"quantitative","axis":null},"y":{"field":"y","type":"quantitative","axis":null},"color":{"field":"s","type":"nominal","legend":null}}},
   {"data":{"name":"phot"},"transform":[{"filter":"datum.p=='LRLL 6' && datum.t=='O'"}],"mark":{"type":"point","shape":"circle","filled":false,"size":190,"strokeWidth":0.9,"clip":true},
    "encoding":{"x":{"field":"x","type":"quantitative","axis":null},"y":{"field":"y","type":"quantitative","axis":null},"color":{"field":"s","type":"nominal","legend":null}}},
   {"data":{"name":"phot"},"transform":[{"filter":"datum.p=='LRLL 6' && datum.t=='f'"}],"mark":{"type":"point","shape":"circle","filled":true,"opacity":1,"size":64,"clip":true},
    "encoding":{"x":{"field":"x","type":"quantitative","axis":null},"y":{"field":"y","type":"quantitative","axis":null},"color":{"field":"s","type":"nominal","legend":null}}},
   {"data":{"name":"phot"},"transform":[{"filter":"datum.p=='LRLL 6' && datum.t=='t'"}],"mark":{"type":"point","shape":"triangle-up","filled":true,"opacity":1,"size":95,"clip":true},
    "encoding":{"x":{"field":"x","type":"quantitative","axis":null},"y":{"field":"y","type":"quantitative","axis":null},"color":{"field":"s","type":"nominal","legend":null}}},
   {"data":{"values":[{"name":"LRLL 6"}]},"mark":{"type":"text","align":"left","baseline":"middle","font":"DejaVu Serif","fontSize":14,"color":"black"},
    "encoding":{"x":{"datum":12.4,"type":"quantitative","axis":null},"y":{"datum":5.5e-9,"type":"quantitative","axis":null},"text":{"field":"name"}}}
  ]}
]
}
